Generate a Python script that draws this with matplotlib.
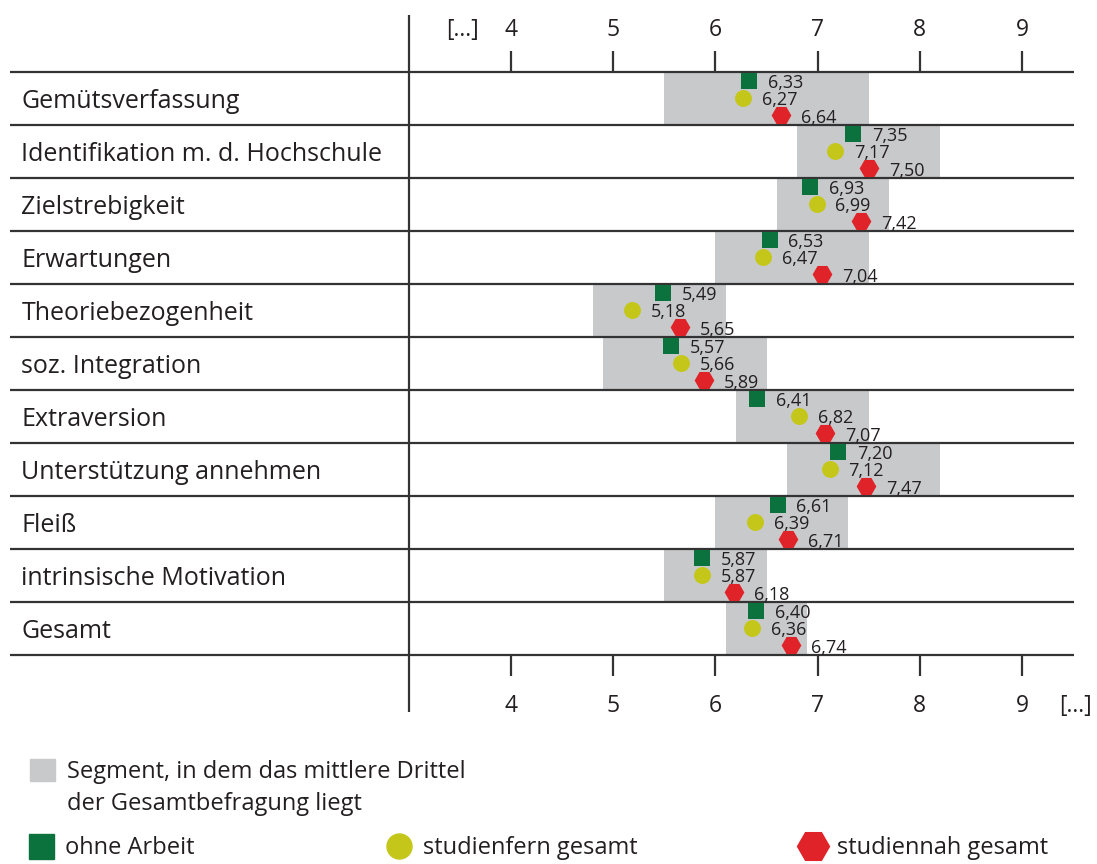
import matplotlib
matplotlib.use("Agg")
import matplotlib.pyplot as plt
from matplotlib.lines import Line2D
from matplotlib.patches import Patch

categories = ["Gemütsverfassung", "Identifikation m. d. Hochschule", "Zielstrebigkeit",
              "Erwartungen", "Theoriebezogenheit", "soz. Integration", "Extraversion",
              "Unterstützung annehmen", "Fleiß", "intrinsische Motivation", "Gesamt"]
ohne_arbeit = [6.33, 7.35, 6.93, 6.53, 5.49, 5.57, 6.41, 7.20, 6.61, 5.87, 6.40]
studienfern = [6.27, 7.17, 6.99, 6.47, 5.18, 5.66, 6.82, 7.12, 6.39, 5.87, 6.36]
studiennah = [6.64, 7.50, 7.42, 7.04, 5.65, 5.89, 7.07, 7.47, 6.71, 6.18, 6.74]
seg_lo = [5.5, 6.8, 6.6, 6.0, 4.8, 4.9, 6.2, 6.7, 6.0, 5.5, 6.1]
seg_hi = [7.5, 8.2, 7.7, 7.5, 6.1, 6.5, 7.5, 8.2, 7.3, 6.5, 6.9]
ticks = [4, 5, 6, 7, 8, 9]

GREEN = "#0b723d"
YELLOW = "#c4c71a"
RED = "#e02329"
GRAY = "#c8c9cb"
LINE = "#333333"
TXT = "#231f20"

plt.rcParams["font.family"] = ["Open Sans", "DejaVu Sans"]


def fmt(v):
    return f"{v:.2f}".replace(".", ",")


fig = plt.figure(figsize=(10.97, 8.64), dpi=100)
ax = fig.add_axes([0, 0, 1, 1])
# 102.2 px per unit, "4" sits at x=511 px; rows are 53 px, first line at y=72 px
ax.set_xlim(4 - 511 / 102.2, 4 + (1097 - 511) / 102.2)
ax.set_ylim((864 - 72) / 53, -72 / 53)
ax.axis("off")

n = len(categories)
rows = list(range(n))

# grey segments (middle third)
ax.barh([r + 0.5 for r in rows], [h - l for l, h in zip(seg_lo, seg_hi)], left=seg_lo,
        height=1.0, color=GRAY, zorder=1)

# row lines + axis line + ticks
ax.hlines(range(n + 1), -0.9, 9.51, color=LINE, lw=1.6, zorder=2)
ax.vlines(3.0, -1.07, n + 1.07, color=LINE, lw=1.6, zorder=2)
ax.vlines(ticks, -0.4, 0, color=LINE, lw=1.6)
ax.vlines(ticks, n, n + 0.4, color=LINE, lw=1.6)
for t in ticks:
    ax.text(t, -0.8, str(t), ha="center", va="center", fontsize=16.5, color=TXT)
    ax.text(t, n + 0.96, str(t), ha="center", va="center", fontsize=16.5, color=TXT)
ax.text(3.53, -0.8, "[...]", ha="center", va="center", fontsize=16.5, color=TXT)
ax.text(9.36, n + 0.96, "[...]", ha="left", va="center", fontsize=16.5, color=TXT)

for r, c in zip(rows, categories):
    ax.text(-0.79, r + 0.55, c, ha="left", va="center", fontsize=18, color=TXT)

# markers
ax.scatter(ohne_arbeit, [r + 0.175 for r in rows], marker="s", s=12.2 ** 2, color=GREEN, linewidths=0, zorder=3)
ax.scatter(studienfern, [r + 0.49 for r in rows], marker="o", s=12.2 ** 2, color=YELLOW, linewidths=0, zorder=3)
ax.scatter(studiennah, [r + 0.82 for r in rows], marker="H", s=14.2 ** 2, color=RED, linewidths=0, zorder=3)

for vals, off, dx in [(ohne_arbeit, 0.175, 13.5), (studienfern, 0.49, 13.5), (studiennah, 0.82, 14.5)]:
    for r, v in zip(rows, vals):
        ax.annotate(fmt(v), (v, r + off), xytext=(dx, -1.5), textcoords="offset points",
                    ha="left", va="center", fontsize=13, color=TXT, zorder=4)

# legends
lkw = dict(frameon=False, prop={"size": 17}, handletextpad=0.5, borderpad=0, borderaxespad=0)
leg = fig.legend(handles=[Patch(color=GRAY), Patch(alpha=0)],
                 labels=["Segment, in dem das mittlere Drittel", "der Gesamtbefragung liegt"],
                 loc="upper left", bbox_to_anchor=(30 / 1097, 1 - 759 / 864),
                 handlelength=1.06, handleheight=1.06, labelspacing=0.3, **lkw)
for t in leg.get_texts():
    t.set_color(TXT)
items = [(Line2D([], [], marker="s", ls="none", color=GREEN, markersize=18), "ohne Arbeit", 28),
         (Line2D([], [], marker="o", ls="none", color=YELLOW, markersize=18), "studienfern gesamt", 386),
         (Line2D([], [], marker="H", ls="none", color=RED, markersize=23), "studiennah gesamt", 800)]
for h, lab, px in items:
    lg = fig.legend(handles=[h], labels=[lab], loc="center left", bbox_to_anchor=(px / 1097, 1 - 848 / 864),
                    handlelength=1.06, **lkw)
    for t in lg.get_texts():
        t.set_color(TXT)

fig.savefig("out.png", dpi=100)
